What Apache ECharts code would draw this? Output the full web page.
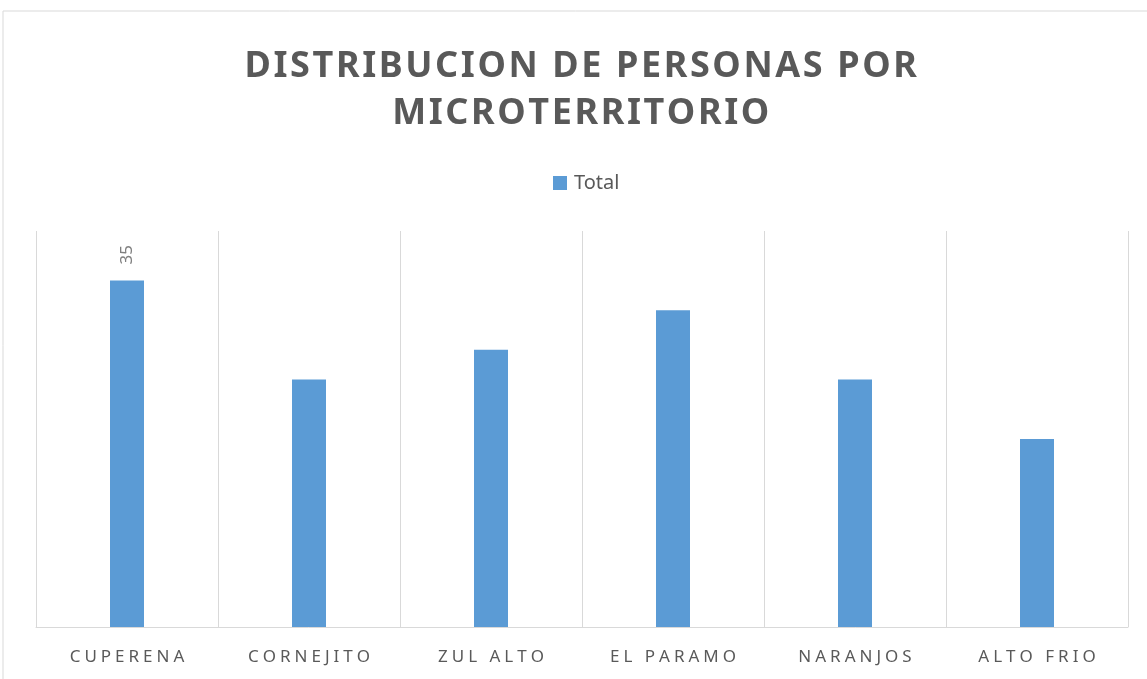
<!DOCTYPE html>
<html>
<head>
<meta charset="utf-8">
<script src="https://cdn.jsdelivr.net/npm/echarts@6/dist/echarts.min.js"></script>
<style>
  html, body { margin: 0; padding: 0; background: #ffffff; }
  #chart { width: 1147px; height: 679px; }
</style>
</head>
<body>
<div id="chart"></div>
<script>
// Personas por microterritorio
const categories = ['CUPERENA', 'CORNEJITO', 'ZUL ALTO', 'EL PARAMO', 'NARANJOS', 'ALTO FRIO'];
const totals = [35, 25, 28, 32, 25, 19];
const labelledIndex = [0];
const titleLines = ['DISTRIBUCION DE PERSONAS POR', 'MICROTERRITORIO'];

// Wrap every character in a rich-text token so it gets a little tracking.
function tracked(str, styleName) {
  return Array.from(str).map(ch => '{' + styleName + '|' + ch + '}').join('');
}

const chart = echarts.init(document.getElementById('chart'), null, { renderer: 'canvas' });

const barData = totals.map((v, i) => ({
  value: v,
  label: { show: labelledIndex.includes(i) }
}));

chart.setOption({
  backgroundColor: '#ffffff',
  animation: false,
  title: {
    text: titleLines.map(l => tracked(l, 't')).join('\n'),
    left: 577,
    top: 38,
    textAlign: 'center',
    textStyle: {
      fontFamily: 'Noto Sans',
      fontWeight: 'bold',
      fontSize: 36,
      lineHeight: 47,
      color: '#595959',
      rich: {
        t: {
          fontFamily: 'Noto Sans',
          fontWeight: 'bold',
          fontSize: 36,
          lineHeight: 47,
          color: '#595959',
          padding: [0, 2.6, 0, 0]
        }
      }
    }
  },
  legend: {
    data: ['Total'],
    left: 548,
    top: 168,
    itemWidth: 14,
    itemHeight: 14,
    icon: 'rect',
    textStyle: { fontFamily: 'Noto Sans', fontSize: 20, color: '#595959', padding: [0, 0, 0, 2] }
  },
  graphic: [{
    type: 'rect',
    shape: { x: 3, y: 11, width: 1170, height: 700 },
    style: { fill: 'none', stroke: '#d9d9d9', lineWidth: 1 },
    silent: true
  }],
  grid: { left: 36, right: 19, top: 231, bottom: 52, containLabel: false },
  xAxis: {
    type: 'category',
    data: categories,
    axisLine: { lineStyle: { color: '#d9d9d9', width: 1 } },
    axisTick: { show: false, interval: 0 },
    splitLine: { show: true, interval: 0, lineStyle: { color: '#d9d9d9', width: 1 } },
    axisLabel: {
      interval: 0,
      margin: 22,
      formatter: v => tracked(v, 'c'),
      rich: {
        c: {
          fontFamily: 'Noto Sans',
          fontSize: 17,
          color: '#595959',
          padding: [0, 2, 0, 2]
        }
      }
    }
  },
  yAxis: {
    type: 'value',
    min: 0,
    max: 40,
    interval: 5,
    show: false,
    splitLine: { show: false }
  },
  series: [{
    name: 'Total',
    type: 'bar',
    data: barData,
    barWidth: 34,
    itemStyle: { color: '#5b9bd5' },
    label: {
      position: 'top',
      rotate: 90,
      align: 'left',
      verticalAlign: 'middle',
      distance: 16,
      fontFamily: 'Noto Sans',
      fontSize: 17,
      color: '#7f7f7f',
      formatter: '{c}'
    }
  }]
});
</script>
</body>
</html>
